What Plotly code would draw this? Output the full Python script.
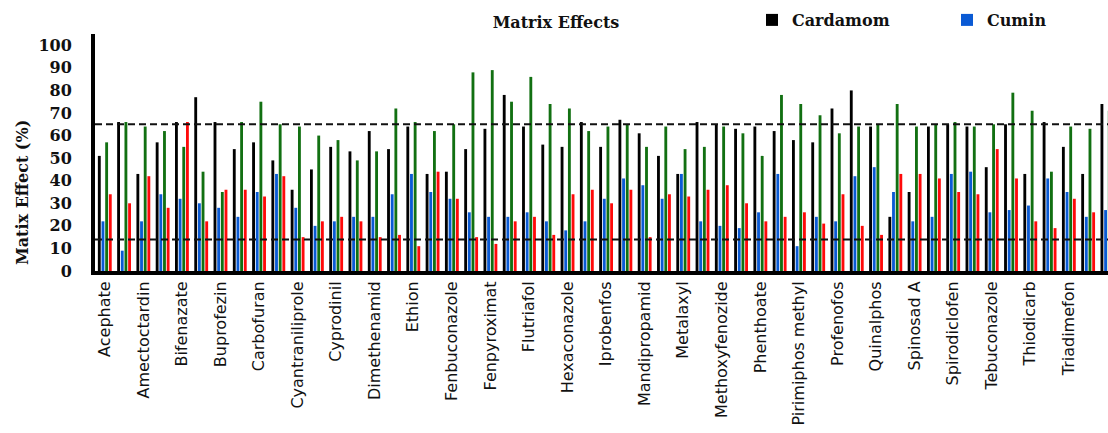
import plotly.graph_objects as go

# Pesticide names (every second compound carries an axis label)
labels = ["Acephate", "Amectoctardin", "Bifenazate", "Buprofezin", "Carbofuran",
          "Cyantraniliprole", "Cyprodinil", "Dimethenamid", "Ethion", "Fenbuconazole",
          "Fenpyroximat", "Flutriafol", "Hexaconazole", "Iprobenfos", "Mandipropamid",
          "Metalaxyl", "Methoxyfenozide", "Phenthoate", "Pirimiphos methyl", "Profenofos",
          "Quinalphos", "Spinosad A", "Spirodiclofen", "Tebuconazole", "Thiodicarb",
          "Triadimefon", "Trifloxystrobin"]

# Matrix effect (%) per compound, in compound order
cardamom = [51, 66, 43, 57, 66, 77, 66, 54, 57, 49, 36, 45, 55, 53, 62, 54, 64, 43,
            44, 54, 63, 78, 64, 56, 55, 66, 55, 67, 61, 51, 43, 66, 65, 63, 64, 62,
            58, 57, 72, 80, 64, 24, 35, 64, 65, 64, 46, 65, 43, 66, 55, 43, 74]
cumin = [22, 9, 22, 34, 32, 30, 28, 24, 35, 43, 28, 20, 22, 24, 24, 34, 43, 35,
         32, 26, 24, 24, 26, 22, 18, 22, 32, 41, 38, 32, 43, 22, 20, 19, 26, 43,
         11, 24, 22, 42, 46, 35, 22, 24, 43, 44, 26, 27, 29, 41, 35, 24, 27]
third_matrix = [57, 66, 64, 62, 55, 44, 35, 66, 75, 65, 64, 60, 58, 49, 53, 72, 66, 62,
                65, 88, 89, 75, 86, 74, 72, 62, 64, 65, 55, 64, 54, 55, 64, 61, 51, 78,
                74, 69, 61, 64, 65, 74, 64, 65, 66, 64, 65, 79, 71, 44, 64, 63, 71]
fourth_matrix = [34, 30, 42, 28, 66, 22, 36, 36, 33, 42, 15, 22, 24, 22, 15, 16, 11, 44,
                 32, 15, 12, 22, 24, 16, 34, 36, 30, 36, 15, 34, 33, 36, 38, 30, 22, 24,
                 26, 21, 34, 20, 16, 43, 43, 41, 35, 34, 54, 41, 22, 19, 32, 26, None]

# Reference levels for acceptable matrix effect
upper_level = 65
lower_level = 14

positions = list(range(len(cardamom)))
label_positions = positions[::2]

series = [
    ("Cardamom", cardamom, "#000000", True),
    ("Cumin", cumin, "#0a5ad4", True),
    ("Matrix 3", third_matrix, "#127012", False),
    ("Matrix 4", fourth_matrix, "#ff0a0a", False),
]

fig = go.Figure()
for name, values, color, in_legend in series:
    fig.add_trace(go.Bar(
        x=positions, y=values, name=name,
        marker=dict(color=color, line=dict(width=0)),
        showlegend=in_legend,
    ))

for level in (upper_level, lower_level):
    fig.add_shape(type="line", xref="paper", x0=0, x1=1, yref="y", y0=level, y1=level,
                  line=dict(color="#111111", width=2, dash="7px,4px"), layer="above")

serif_bold = dict(family="DejaVu Serif", size=16, color="#111111", weight="bold")

fig.update_layout(
    width=1108, height=433,
    margin=dict(l=95, r=0, t=34, b=162, autoexpand=False),
    paper_bgcolor="white", plot_bgcolor="white",
    barmode="group", bargap=0.24, bargroupgap=0.22,
    title=dict(text="Matrix Effects", x=556 / 1108, xanchor="center", xref="container",
               y=1 - 22 / 433, yanchor="middle", yref="container", font=serif_bold),
    legend=dict(orientation="h", xref="container", yref="container",
                x=752 / 1108, xanchor="left", y=1 - 20 / 433, yanchor="middle",
                font=serif_bold, entrywidth=150, bgcolor="rgba(0,0,0,0)",
                itemclick=False),
    xaxis=dict(range=[-0.508, 52.03], tickmode="array", tickvals=label_positions,
               ticktext=labels, tickangle=-90, ticks="", showgrid=False, zeroline=False,
               showline=True, linewidth=4, linecolor="black",
               tickfont=dict(family="DejaVu Sans", size=16, color="#111111")),
    yaxis=dict(range=[0, 105], tickmode="array", tickvals=list(range(0, 101, 10)),
               ticks="", showgrid=False, zeroline=False, showline=True, linewidth=4,
               linecolor="black", ticklabelstandoff=16, tickfont=serif_bold),
    annotations=[dict(text="Matix Effect (%)", textangle=-90, xref="paper", yref="paper",
                      x=(22 - 95) / 1013, y=(271 - 193) / 237, xanchor="center",
                      yanchor="middle", showarrow=False, font=serif_bold)],
)

fig.write_html("out.html")
